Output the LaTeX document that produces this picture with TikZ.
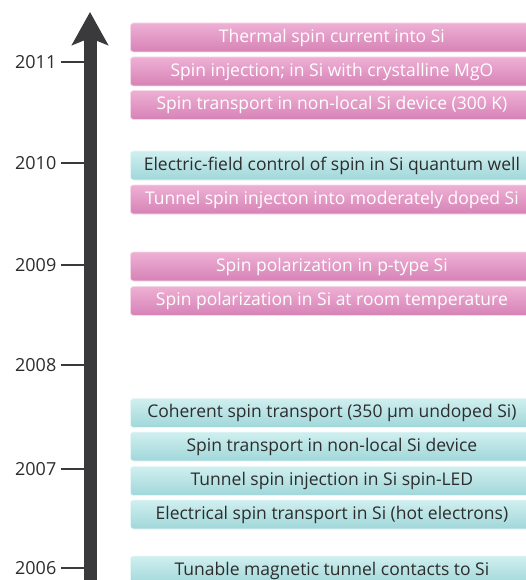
\documentclass[tikz,border=0pt]{standalone}
\usepackage{fontspec}
\setmainfont{Open Sans}
\usepackage{xcolor}
\usetikzlibrary{arrows.meta}
\definecolor{pinktop}{RGB}{238,176,212}
\definecolor{pinkbot}{RGB}{214,130,182}
\definecolor{cyantop}{RGB}{208,239,239}
\definecolor{cyanbot}{RGB}{160,215,218}
\definecolor{axisgray}{RGB}{58,58,60}
\definecolor{textgray}{RGB}{45,45,45}
\tikzstyle{eventbox} = [rectangle, rounded corners=3pt, minimum width=403pt,
    minimum height=29pt, inner sep=0pt, anchor=west, line width=0.8pt,
    font=\fontsize{17.5}{20}\selectfont]
\tikzstyle{pinkbox} = [eventbox, top color=pinktop, bottom color=pinkbot,
    draw=pinktop!50!white, text=white]
\tikzstyle{cyanbox} = [eventbox, top color=cyantop, bottom color=cyanbot,
    draw=cyantop!50!white, text=textgray]
\tikzstyle{yearlabel} = [anchor=east, inner xsep=4.5pt, inner ysep=0pt,
    text=textgray, font=\fontsize{18}{20}\selectfont]
\tikzstyle{tick} = [draw=axisgray, line width=2.5pt]
\tikzstyle{timeaxis} = [draw=axisgray, line width=13pt,
    -{Stealth[length=33pt,width=36pt,inset=7pt]}]

\begin{document}
\begin{tikzpicture}[x=1pt, y=-1pt]
\useasboundingbox (0,0) rectangle (525,580);

% years and ticks
\node[yearlabel] (y2011) at (61,62) {2011};
\node[yearlabel] (y2010) at (61,163) {2010};
\node[yearlabel] (y2009) at (61,265) {2009};
\node[yearlabel] (y2008) at (61,365) {2008};
\node[yearlabel] (y2007) at (61,469) {2007};
\node[yearlabel] (y2006) at (61,568) {2006};
\coordinate (t2011) at (90,62);
\coordinate (t2010) at (90,163);
\coordinate (t2009) at (90,265);
\coordinate (t2008) at (90,365);
\coordinate (t2007) at (90,469);
\coordinate (t2006) at (90,568);
\draw[tick] (y2011.east) -- (t2011);
\draw[tick] (y2010.east) -- (t2010);
\draw[tick] (y2009.east) -- (t2009);
\draw[tick] (y2008.east) -- (t2008);
\draw[tick] (y2007.east) -- (t2007);
\draw[tick] (y2006.east) -- (t2006);

% time axis
\coordinate (axisbot) at (90,600);
\coordinate (axistop) at (90,12);
\draw[timeaxis] (axisbot) -- (axistop);

% events
\node[pinkbox] (thermal) at (130,37.5) {Thermal spin current into Si};
\node[pinkbox] (mgo) at (130,71.5) {Spin injection; in Si with crystalline MgO};
\node[pinkbox] (nonlocalrt) at (130,105) {Spin transport in non-local Si device (300 K)};
\node[cyanbox] (efield) at (130,165.5) {Electric-field control of spin in Si quantum well};
\node[pinkbox] (doped) at (130,199.5) {Tunnel spin injecton into moderately doped Si};
\node[pinkbox] (ptype) at (130,266.5) {Spin polarization in p-type Si};
\node[pinkbox] (roomtemp) at (130,301) {Spin polarization in Si at room temperature};
\node[cyanbox] (coherent) at (130,413) {Coherent spin transport (350 µm undoped Si)};
\node[cyanbox] (nonlocal) at (130,446.5) {Spin transport in non-local Si device};
\node[cyanbox] (spinled) at (130,481) {Tunnel spin injection in Si spin-LED};
\node[cyanbox] (hotel) at (130,514.5) {Electrical spin transport in Si (hot electrons)};
\node[cyanbox] (tunable) at (130,570.5) {Tunable magnetic tunnel contacts to Si};
\end{tikzpicture}
\end{document}
